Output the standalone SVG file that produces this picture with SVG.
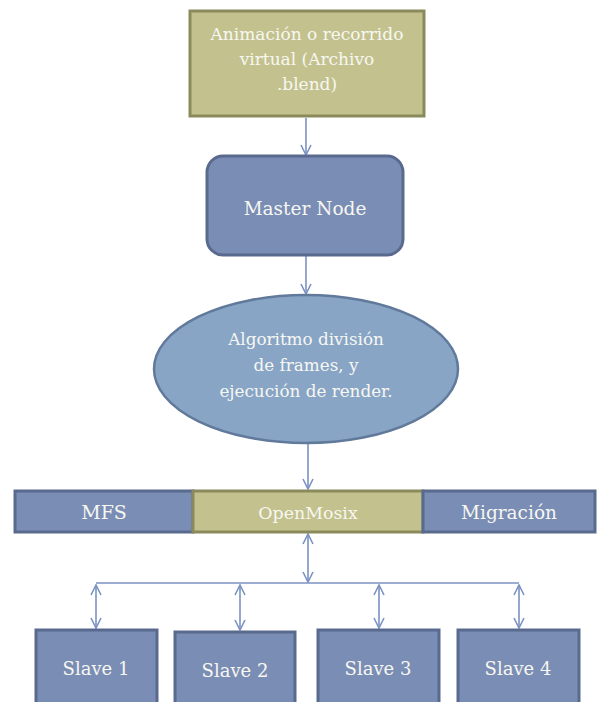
<svg xmlns="http://www.w3.org/2000/svg" width="600" height="702" viewBox="0 0 600 702">
<defs>
<style>
.olive{fill:#c3c28e;stroke:#8b8a5c;stroke-width:3}
.blue{fill:#7a8db4;stroke:#5a6a8f;stroke-width:3}
.ell{fill:#88a5c6;stroke:#61799b;stroke-width:2.5}
.t{fill:#f7f7f2;text-anchor:middle;font-family:"DejaVu Serif","Liberation Serif",serif}
.c{stroke:#7b92c2;stroke-width:1.6;fill:none}
</style>
<marker id="ah" viewBox="0 0 12 12" refX="11" refY="6" markerWidth="12" markerHeight="12" markerUnits="userSpaceOnUse" orient="auto-start-reverse">
<path d="M1,1 L11,6 L1,11" fill="none" stroke="#7b92c2" stroke-width="1.6"/>
</marker>
</defs>
<rect width="600" height="702" fill="#ffffff"/>
<g id="connectors">
<line class="c" x1="306" y1="118" x2="306" y2="155" marker-end="url(#ah)"/>
<line class="c" x1="306" y1="255" x2="306" y2="294" marker-end="url(#ah)"/>
<line class="c" x1="308" y1="444" x2="308" y2="489" marker-end="url(#ah)"/>
<line class="c" x1="308" y1="534" x2="308" y2="582" marker-start="url(#ah)" marker-end="url(#ah)"/>
<line class="c" x1="96" y1="583" x2="519" y2="583"/>
<line class="c" x1="96" y1="585" x2="96" y2="628" marker-start="url(#ah)" marker-end="url(#ah)"/>
<line class="c" x1="240" y1="585" x2="240" y2="630" marker-start="url(#ah)" marker-end="url(#ah)"/>
<line class="c" x1="379" y1="585" x2="379" y2="628" marker-start="url(#ah)" marker-end="url(#ah)"/>
<line class="c" x1="519" y1="585" x2="519" y2="628" marker-start="url(#ah)" marker-end="url(#ah)"/>
</g>
<g id="animacion">
<rect class="olive" x="190" y="11" width="234" height="105"/>
<text class="t" font-size="17" x="307" y="40">Animación o recorrido</text>
<text class="t" font-size="17" x="307" y="65">virtual (Archivo</text>
<text class="t" font-size="17" x="307" y="90">.blend)</text>
</g>
<g id="master">
<rect class="blue" x="207" y="156" width="196" height="99" rx="16" ry="16"/>
<text class="t" font-size="18.5" x="305" y="215">Master Node</text>
</g>
<g id="algoritmo">
<ellipse class="ell" cx="306" cy="369" rx="152" ry="74"/>
<text class="t" font-size="16.8" x="306" y="345">Algoritmo división</text>
<text class="t" font-size="16.8" x="306" y="371">de frames, y</text>
<text class="t" font-size="16.8" x="306" y="397">ejecución de render.</text>
</g>
<g id="mfs">
<rect class="blue" x="15" y="491" width="178" height="41"/>
<text class="t" font-size="19" x="104" y="519">MFS</text>
</g>
<g id="openmosix">
<rect class="olive" x="193" y="491" width="230" height="41"/>
<text class="t" font-size="17.4" x="308" y="519">OpenMosix</text>
</g>
<g id="migracion">
<rect class="blue" x="423" y="491" width="172" height="41"/>
<text class="t" font-size="18.5" x="509" y="519">Migración</text>
</g>
<g id="slave1">
<rect class="blue" x="36" y="630" width="121" height="80"/>
<text class="t" font-size="18" x="96" y="675">Slave 1</text>
</g>
<g id="slave2">
<rect class="blue" x="175" y="632" width="120" height="80"/>
<text class="t" font-size="18" x="235" y="677">Slave 2</text>
</g>
<g id="slave3">
<rect class="blue" x="318" y="630" width="121" height="80"/>
<text class="t" font-size="18" x="378" y="675">Slave 3</text>
</g>
<g id="slave4">
<rect class="blue" x="458" y="630" width="121" height="80"/>
<text class="t" font-size="18" x="518" y="675">Slave 4</text>
</g>
</svg>
